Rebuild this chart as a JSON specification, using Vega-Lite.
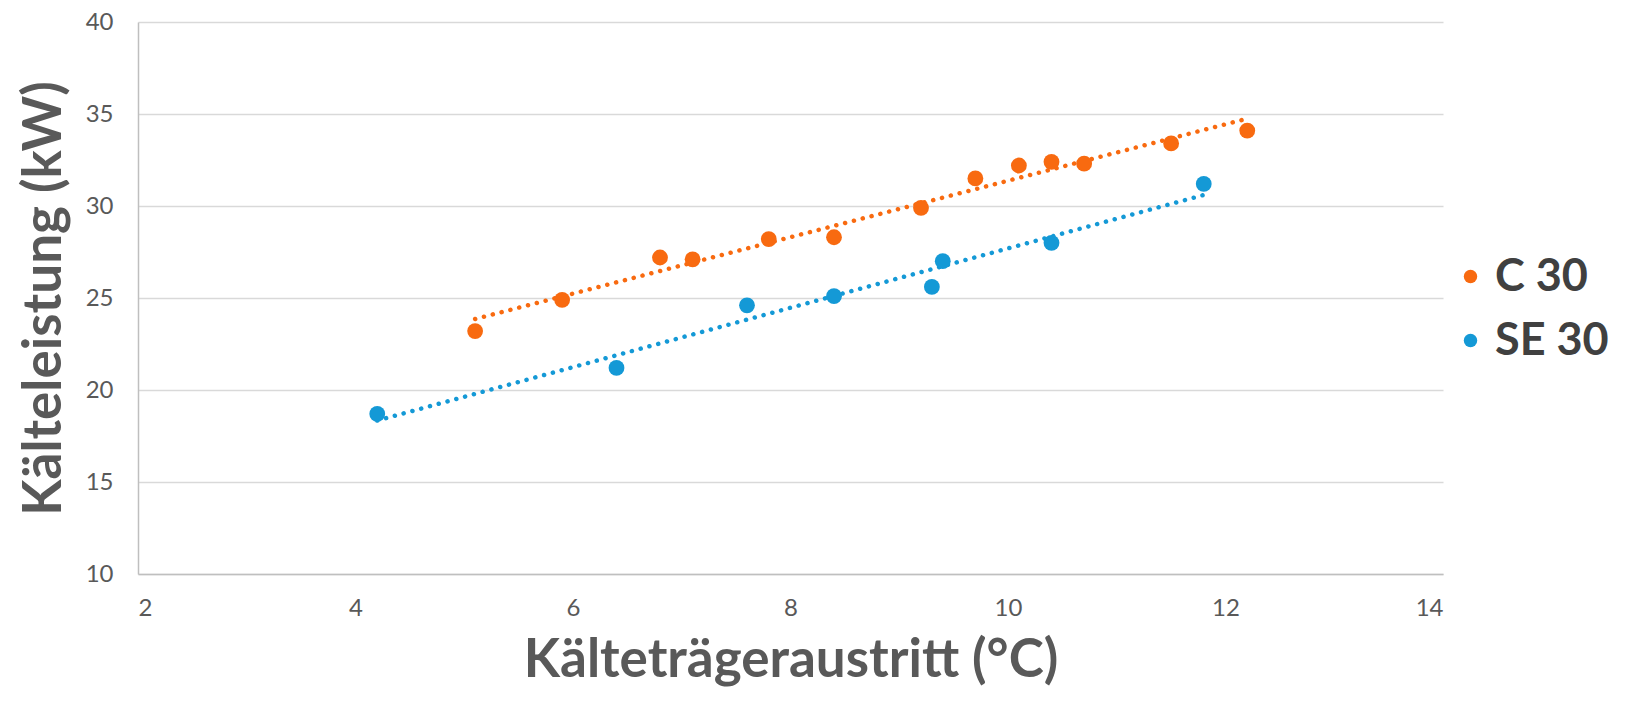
{
  "$schema": "https://vega.github.io/schema/vega-lite/v6.json",
  "autosize": {"type": "none"},
  "width": 1305,
  "height": 552,
  "padding": {"left": 138, "top": 22, "right": 207, "bottom": 127},
  "background": "white",
  "config": {
    "view": {"stroke": null},
    "font": "Lato",
    "axis": {
      "labelFont": "Lato",
      "labelFontSize": 24,
      "labelColor": "#595959",
      "titleFont": "Lato",
      "titleFontWeight": "bold",
      "titleColor": "#595959",
      "titleFontSize": 53,
      "ticks": false,
      "domainColor": "#BFBFBF",
      "domainWidth": 1.5,
      "gridColor": "#D9D9D9",
      "gridWidth": 1.5
    }
  },
  "data": {
    "values": [
      {"series": "C 30", "x": 5.1, "y": 23.2},
      {"series": "C 30", "x": 5.9, "y": 24.9},
      {"series": "C 30", "x": 6.8, "y": 27.2},
      {"series": "C 30", "x": 7.1, "y": 27.1},
      {"series": "C 30", "x": 7.8, "y": 28.2},
      {"series": "C 30", "x": 8.4, "y": 28.3},
      {"series": "C 30", "x": 9.2, "y": 29.9},
      {"series": "C 30", "x": 9.7, "y": 31.5},
      {"series": "C 30", "x": 10.1, "y": 32.2},
      {"series": "C 30", "x": 10.4, "y": 32.4},
      {"series": "C 30", "x": 10.7, "y": 32.3},
      {"series": "C 30", "x": 11.5, "y": 33.4},
      {"series": "C 30", "x": 12.2, "y": 34.1},
      {"series": "SE 30", "x": 4.2, "y": 18.7},
      {"series": "SE 30", "x": 6.4, "y": 21.2},
      {"series": "SE 30", "x": 7.6, "y": 24.6},
      {"series": "SE 30", "x": 8.4, "y": 25.1},
      {"series": "SE 30", "x": 9.3, "y": 25.6},
      {"series": "SE 30", "x": 9.4, "y": 27.0},
      {"series": "SE 30", "x": 10.4, "y": 28.0},
      {"series": "SE 30", "x": 11.8, "y": 31.2}
    ]
  },
  "resolve": {"legend": {"color": "independent"}},
  "layer": [
    {
      "transform": [{"regression": "y", "on": "x", "groupby": ["series"]}],
      "mark": {"type": "line", "strokeWidth": 4.5, "strokeDash": [0.1, 9], "strokeCap": "round"},
      "encoding": {
        "x": {"field": "x", "type": "quantitative"},
        "y": {"field": "y", "type": "quantitative"},
        "color": {"field": "series", "type": "nominal", "legend": null,
          "scale": {"domain": ["C 30", "SE 30"], "range": ["#F86A10", "#1499D6"]}}
      }
    },
    {
      "mark": {"type": "circle", "size": 250, "opacity": 1},
      "encoding": {
        "x": {"field": "x", "type": "quantitative",
          "scale": {"domain": [2, 14], "nice": false, "zero": false},
          "axis": {"title": "Kälteträgeraustritt (°C)", "values": [2, 4, 6, 8, 10, 12, 14], "format": "d", "grid": false, "labelPadding": 22, "titlePadding": 14}},
        "y": {"field": "y", "type": "quantitative",
          "scale": {"domain": [10, 40], "nice": false, "zero": false},
          "axis": {"title": "Kälteleistung (kW)", "values": [10, 15, 20, 25, 30, 35, 40], "format": "d", "labelPadding": 25, "titlePadding": 14}},
        "color": {"field": "series", "type": "nominal",
          "scale": {"domain": ["C 30", "SE 30"], "range": ["#F86A10", "#1499D6"]},
          "legend": {
            "title": null,
            "orient": "none",
            "legendX": 1310,
            "legendY": 232,
            "symbolType": "circle",
            "symbolSize": 180,
            "symbolStrokeWidth": 0,
            "symbolOpacity": 1,
            "labelFont": "Lato",
            "labelFontWeight": "bold",
            "labelFontSize": 45,
            "labelColor": "#404040",
            "labelOffset": 2,
            "rowPadding": 18,
            "padding": 0
          }
        }
      }
    }
  ]
}
